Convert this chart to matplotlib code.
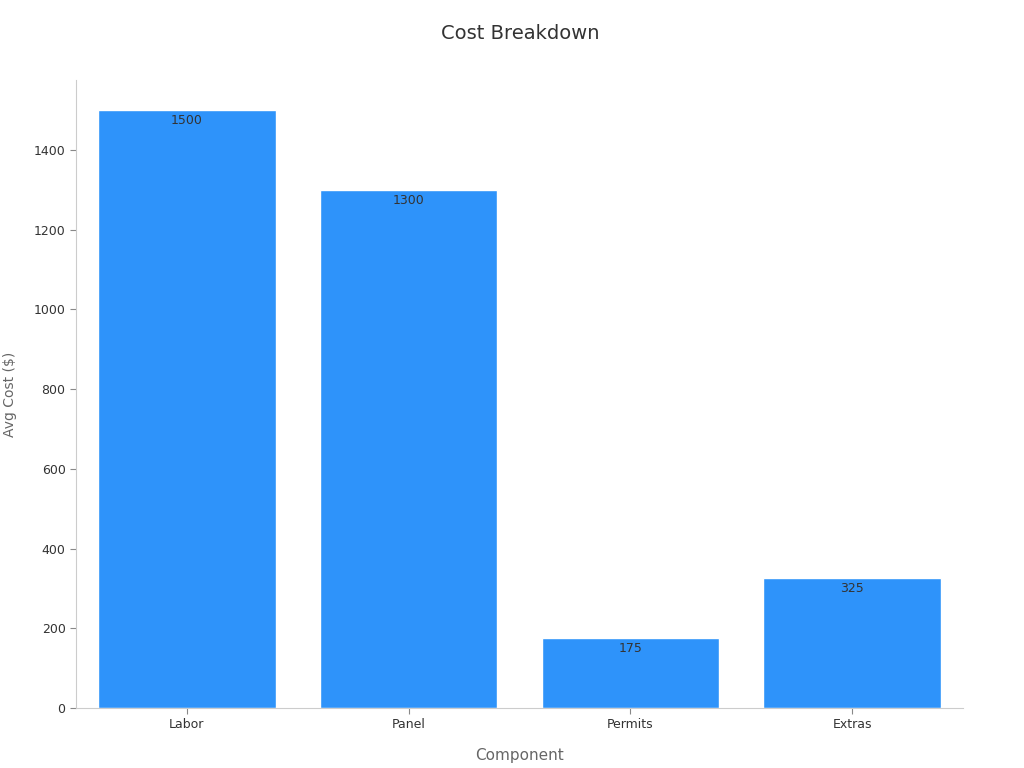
import matplotlib
matplotlib.use("Agg")
import matplotlib.pyplot as plt

categories = ["Labor", "Panel", "Permits", "Extras"]
values = [1500, 1300, 175, 325]

fig = plt.figure(figsize=(10.24, 7.68), dpi=100)
ax = fig.add_axes([76/1024, 60/768, (963-76)/1024, (708-80)/768])
bars = ax.bar(range(len(categories)), values, width=0.8, color="#2E93FA", edgecolor="white", linewidth=1)
for i, v in enumerate(values):
    ax.text(i, v - 10, str(v), ha="center", va="top", fontsize=9, color="#333333")
ax.set_xlim(-0.5, len(categories) - 0.5)
ax.set_ylim(0, 1575)
ax.set_xticks(range(len(categories)))
ax.set_xticklabels(categories)
ax.set_yticks(range(0, 1401, 200))
ax.tick_params(labelsize=9, colors="#333333")
ax.tick_params(axis="both", color="#888888", length=4)
for s in ["top", "right"]:
    ax.spines[s].set_visible(False)
for s in ["left", "bottom"]:
    ax.spines[s].set_color("#cccccc")
ax.set_xlabel("Component", fontsize=11, color="#666666", labelpad=12)
ax.set_ylabel("Avg Cost ($)", fontsize=10, color="#666666", labelpad=12)
fig.text(0.508, 0.957, "Cost Breakdown", ha="center", va="center", fontsize=14, color="#333333")
fig.savefig("out.png", dpi=100)
